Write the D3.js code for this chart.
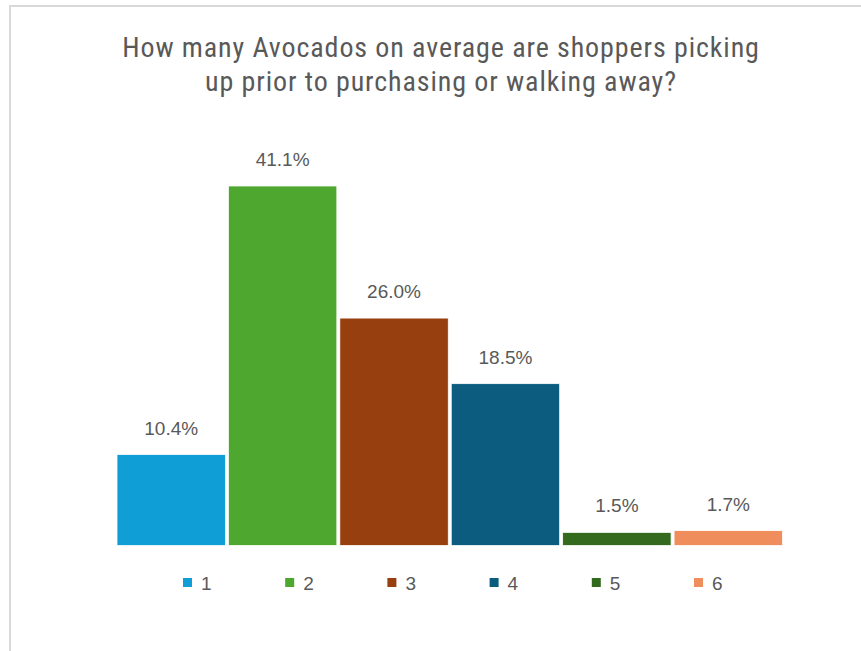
<html>
<head>
<script src="https://d3js.org/d3.v7.min.js"></script>
<style>
body { margin: 0; background: #ffffff; }
</style>
</head>
<body>
<div id="canvas"></div>
<script>

var categories = ["1", "2", "3", "4", "5", "6"];
var values = [10.4, 41.1, 26.0, 18.5, 1.5, 1.7];
var colors = ["#0f9ed5", "#4ea72e", "#983f10", "#0b5c7e", "#336a1e", "#ef8e5c"];
var titleLines = ["How many Avocados on average are shoppers picking",
                  "up prior to purchasing or walking away?"];

var W = 861, H = 651;

var svg = d3.select("#canvas")
            .append("svg")
            .attr("width", W)
            .attr("height", H);

// chart frame (only top and left edges visible)
svg.append("rect")
   .attr("x", 10)
   .attr("y", 6)
   .attr("width", W)
   .attr("height", H)
   .attr("fill", "#ffffff")
   .attr("stroke", "#d9d9d9")
   .attr("stroke-width", 2);

svg.append("g")
   .selectAll("text")
   .data(titleLines)
   .enter()
   .append("text")
   .attr("x", 441)
   .attr("y", function(d, i) { return 57 + i * 34; })
   .attr("text-anchor", "middle")
   .style("font-family", "'Liberation Sans Narrow', 'Roboto Condensed', 'Liberation Sans', sans-serif")
   .style("font-size", "28px")
   .style("letter-spacing", "0.9px")
   .style("fill", "#595959")
   .text(function(d) { return d; });

var x = d3.scaleBand()
          .domain(categories)
          .range([115.5, 784])
          .paddingInner(0)
          .paddingOuter(0);

var y = d3.scaleLinear()
          .domain([0, 41.1])
          .range([545.5, 186]);

svg.append("g")
   .selectAll("rect")
   .data(values)
   .enter()
   .append("rect")
   .attr("x", function(d, i) { return x(categories[i]) + 1.5; })
   .attr("width", x.bandwidth() - 3)
   .attr("y", function(d) { return y(d); })
   .attr("height", function(d) { return y(0) - y(d); })
   .attr("fill", function(d, i) { return colors[i]; })
   .attr("stroke", "#ffffff")
   .attr("stroke-width", 0.75);

svg.append("g")
   .selectAll("text")
   .data(values)
   .enter()
   .append("text")
   .attr("x", function(d, i) { return x(categories[i]) + x.bandwidth() / 2; })
   .attr("y", function(d) { return y(d) - 20; })
   .attr("text-anchor", "middle")
   .style("font-family", "'Liberation Sans', Arial, sans-serif")
   .style("font-size", "19px")
   .style("fill", "#595959")
   .text(function(d) { return d.toFixed(1) + "%"; });

// legend
var legend = svg.append("g")
                .selectAll("g")
                .data(categories)
                .enter()
                .append("g")
                .attr("transform", function(d, i) {
                   return "translate(" + (183 + i * 102.2) + "," + 578 + ")";
                });

legend.append("rect")
      .attr("width", 9)
      .attr("height", 9)
      .attr("fill", function(d, i) { return colors[i]; });

legend.append("text")
      .attr("x", 18)
      .attr("y", 12)
      .style("font-family", "'Liberation Sans', Arial, sans-serif")
      .style("font-size", "19px")
      .style("fill", "#595959")
      .text(function(d) { return d; });

</script>
</body>
</html>
